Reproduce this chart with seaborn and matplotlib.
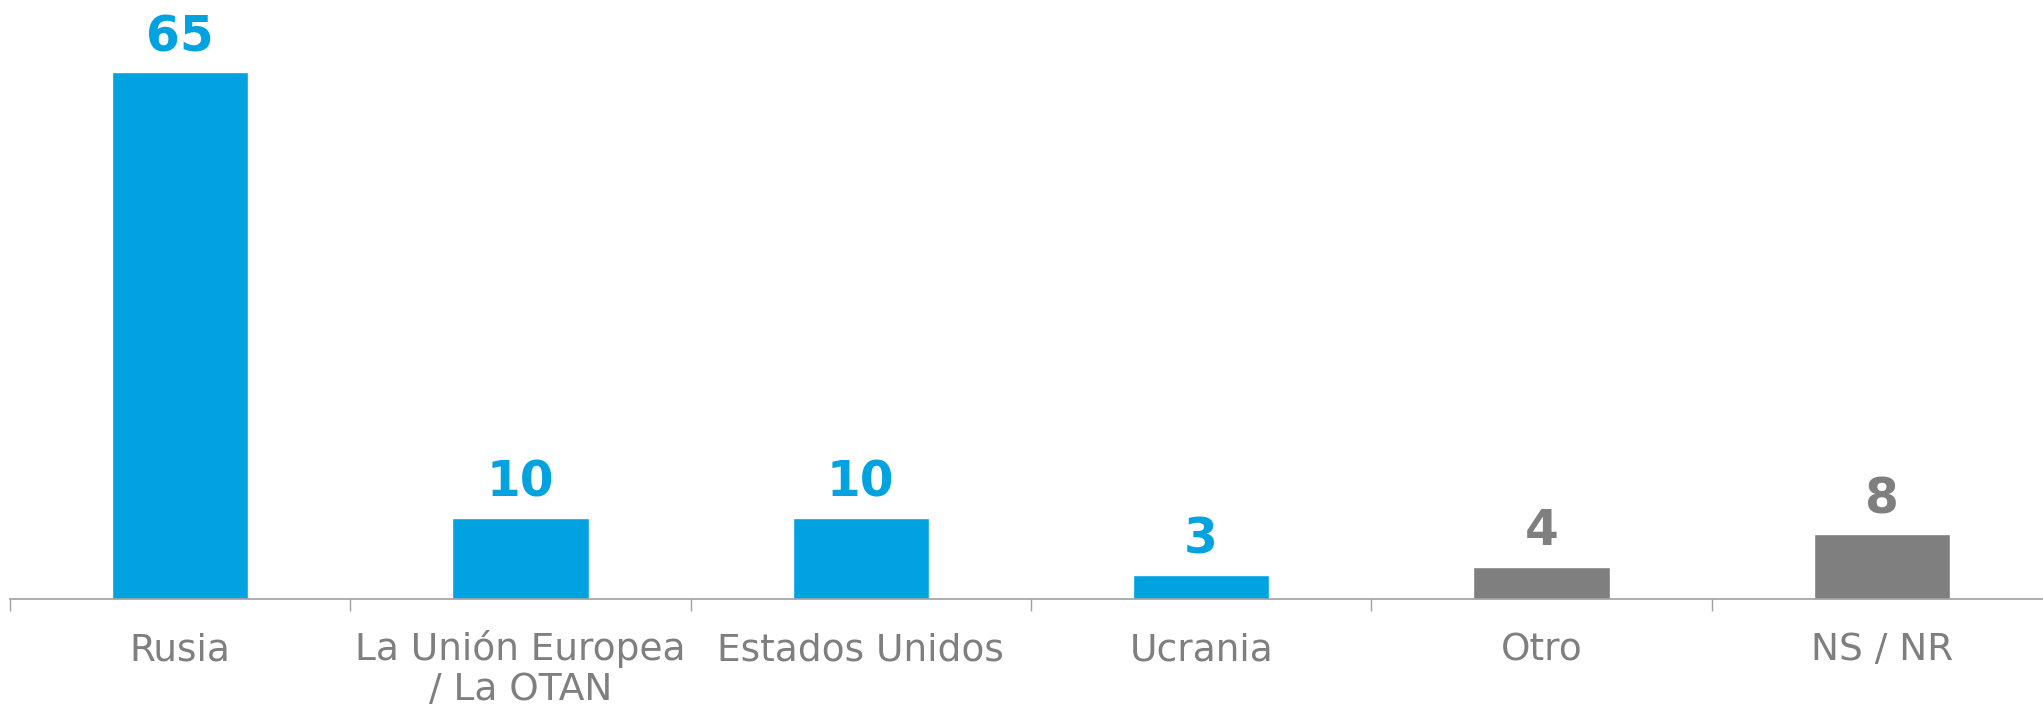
import matplotlib
matplotlib.use("Agg")
import matplotlib.pyplot as plt
import seaborn as sns
import pandas as pd

sns.set_theme(style="white")
plt.rcParams['font.family'] = ['DejaVu Sans']

categories = ["Rusia", "La Unión Europea", "Estados Unidos", "Ucrania", "Otro", "NS / NR"]
# second line of the long label
second_line = {1: "/ La OTAN"}
values = [65, 10, 10, 3, 4, 8]
colors = ["#00A3E0", "#00A3E0", "#00A3E0", "#00A3E0", "#7F7F7F", "#7F7F7F"]

df = pd.DataFrame({"cat": categories, "val": values})

fig = plt.figure(figsize=(20.43, 7.11), dpi=100)
ax = fig.add_axes([10 / 2043, 112 / 711, 2042 / 2043, 599 / 711])

sns.barplot(data=df, x="cat", y="val", hue="cat", palette=colors, legend=False,
            width=0.40, saturation=1, ax=ax)

for cont, col in zip(ax.containers, colors):
    ax.bar_label(cont, padding=8, fontsize=35, fontweight="bold", color=col)

ax.set_xlim(-0.5, 5.5)
ax.set_ylim(0, 73.9)
ax.set_xlabel("")
ax.set_ylabel("")
ax.set_yticks([])
for s in ["top", "right", "left"]:
    ax.spines[s].set_visible(False)
ax.spines["bottom"].set_color("#A0A0A0")
ax.spines["bottom"].set_linewidth(1.2)

ax.set_xticks(range(len(categories)))
ax.set_xticklabels(categories, fontsize=27, color="#7F7F7F", va="baseline")
ax.set_xticks([i - 0.5 for i in range(len(categories) + 1)], minor=True)
ax.tick_params(axis="x", which="major", length=0, pad=44)
ax.tick_params(axis="x", which="minor", bottom=True, length=8.5, width=1.0,
               color="#A0A0A0", direction="out")

for i, txt in second_line.items():
    ax.annotate(txt, xy=(i, 0), xycoords=ax.get_xaxis_transform(),
                xytext=(0, -73), textcoords="offset points",
                ha="center", va="baseline", fontsize=27, color="#7F7F7F",
                annotation_clip=False)

fig.savefig("out.png", dpi=100)
